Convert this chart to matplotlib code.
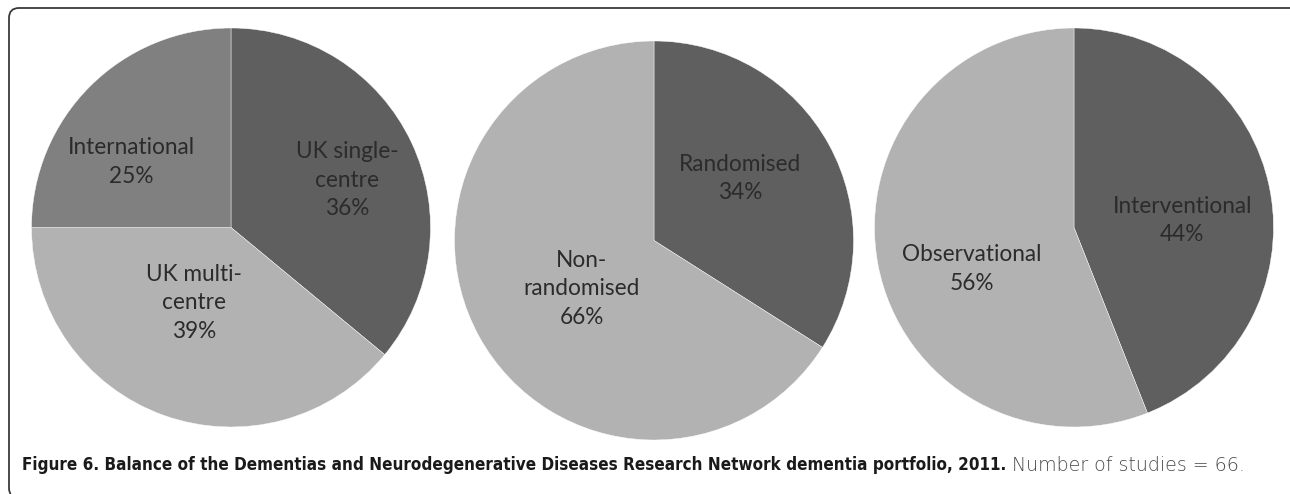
import matplotlib
matplotlib.use("Agg")
import matplotlib.pyplot as plt
from matplotlib import font_manager
from matplotlib.patches import FancyBboxPatch
from matplotlib.transforms import IdentityTransform

# Data: share of studies (%) per category, one pie each
site_names = ["UK single-\ncentre", "UK multi-\ncentre", "International"]
site_pct = [36, 39, 25]

design_names = ["Randomised", "Non-\nrandomised"]
design_pct = [34, 66]

type_names = ["Interventional", "Observational"]
type_pct = [44, 56]

caption_bold = ("Figure 6. Balance of the Dementias and Neurodegenerative Diseases "
                "Research Network dementia portfolio, 2011.")
caption_rest = " Number of studies = 66."

DARK, MID, LIGHT = "#5f5f5f", "#7f807f", "#b2b2b2"
TEXT = "#2b2b2b"

fonts = font_manager.fontManager.ttflist
available = {f.name for f in fonts}
label_font = "Lato" if "Lato" in available else "DejaVu Sans"

# pick a narrow face for the caption if one is installed
cap_font, cap_stretch = "DejaVu Sans", "normal"
for fam, st in [("Roboto Condensed", "normal"), ("Open Sans Condensed", "normal"),
                ("Noto Sans", "condensed"), ("DejaVu Sans", "condensed"),
                ("Open Sans", "condensed")]:
    if any(f.name == fam and str(f.stretch) == st for f in fonts):
        cap_font, cap_stretch = fam, st
        break

W, H = 1290, 494
fig = plt.figure(figsize=(W / 100, H / 100), dpi=100)


def add_pie(cx, cy, r, values, names, colors, label_xy):
    # cx, cy, r in pixels (y measured from top)
    ax = fig.add_axes([(cx - r) / W, (H - cy - r) / H, 2 * r / W, 2 * r / H])
    ax.pie(values, colors=colors, startangle=90, counterclock=False,
           wedgeprops=dict(edgecolor="white", linewidth=0.3))
    ax.set_xlim(-1, 1)
    ax.set_ylim(-1, 1)
    ax.set_aspect("equal")
    ax.axis("off")
    for name, v, (x, y) in zip(names, values, label_xy):
        ax.text(x, y, f"{name}\n{v}%", ha="center", va="center",
                fontsize=16.3, color=TEXT, family=label_font, linespacing=1.45)


add_pie(231, 227.5, 199.5, site_pct, site_names, [DARK, LIGHT, MID],
        [(0.581, 0.238), (-0.185, -0.378), (-0.501, 0.328)])
add_pie(654, 240.5, 199.5, design_pct, design_names, [DARK, LIGHT],
        [(0.431, 0.311), (-0.361, -0.243)])
add_pie(1074, 227.5, 199.5, type_pct, type_names, [DARK, LIGHT],
        [(0.543, 0.035), (-0.513, -0.209)])

# rounded frame, only top and left edges fall inside the image
frame = FancyBboxPatch((9, -4), W + 4, H - 8 + 4,
                       boxstyle="round,pad=0,rounding_size=10",
                       transform=IdentityTransform(), fill=False,
                       edgecolor="#3a3a3a", linewidth=1.3)
fig.add_artist(frame)

# caption: bold part sized to span the same width as in the original
t1 = fig.text(22 / W, (H - 465) / H, caption_bold, fontsize=11,
              fontweight="bold", family=cap_font, fontstretch=cap_stretch,
              color="#1a1a1a", va="center")
renderer = fig.canvas.get_renderer()
w = t1.get_window_extent(renderer).width
size = 11 * 986 / w
t1.set_fontsize(size)
t2 = plt.annotate(caption_rest, xy=(1, 0.5), xycoords=t1, va="center",
                  fontsize=size, family=cap_font, fontweight="light",
                  color="#4a4a4a", annotation_clip=False)
w2 = t2.get_window_extent(renderer).width
t2.set_fontsize(min(size * 1.12, size * 272 / w2))

fig.savefig("out.png", dpi=100, facecolor="white")
